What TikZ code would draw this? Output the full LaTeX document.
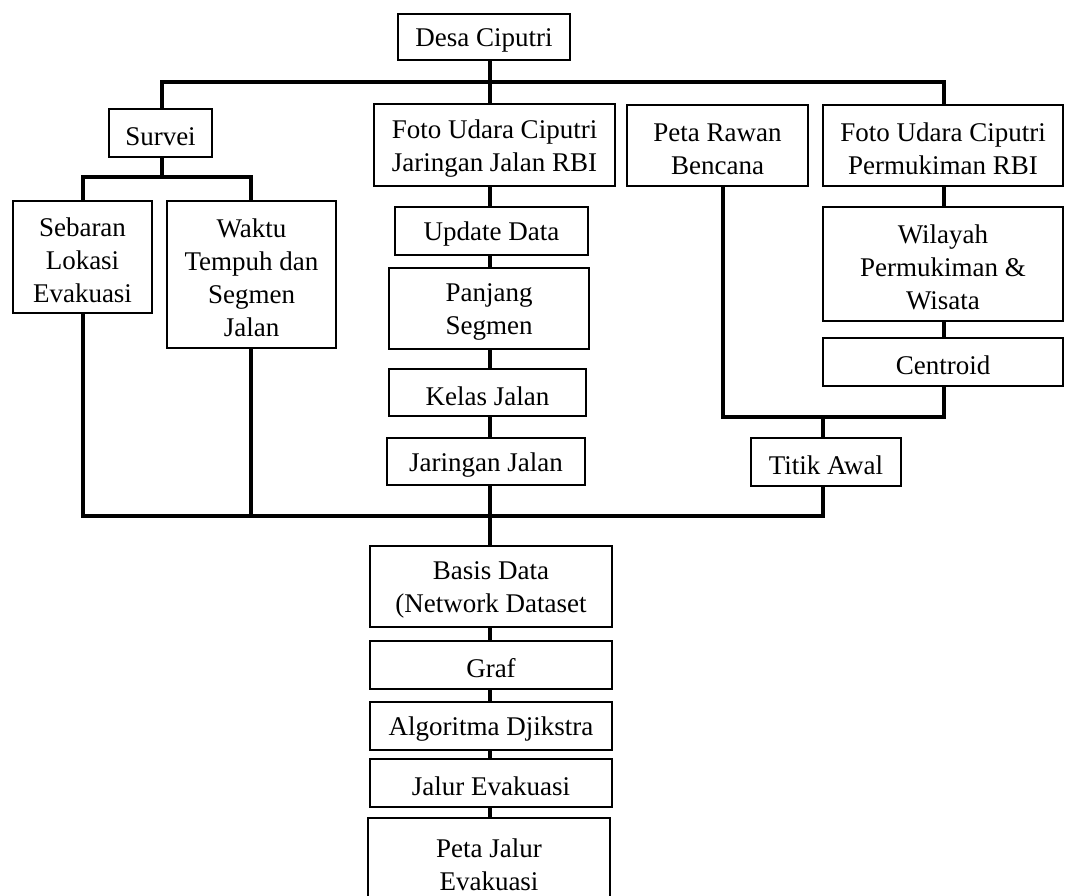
\documentclass[tikz,border=0pt]{standalone}
\usepackage{fontspec}
\setmainfont{Liberation Serif}
\usetikzlibrary{calc}
\begin{document}
\begin{tikzpicture}[x=0.75pt,y=-0.75pt,
  box/.style={draw, line width=2pt, inner sep=0pt},
  txt/.style={inner sep=0pt, align=center,
    font=\fontsize{20.25}{24.75}\selectfont},
  link/.style={line width=3pt, line cap=rect, line join=miter}]
\useasboundingbox (0,0) rectangle (1066,895);
\newcommand\bx[6]{\node[box, minimum width={(#4-2)*0.75pt}, minimum height={(#5-2)*0.75pt}] (#1) at (#2,#3) {};
  \node[txt] (#1t) at ($(#1.center)+(0,3.5)$) {#6};}
% boxes
\bx{desa}{484}{37}{174}{48}{Desa Ciputri}
\bx{survei}{160.5}{133}{105}{50}{Survei}
\bx{fotoj}{494.5}{145}{243}{84}{Foto Udara Ciputri\\Jaringan Jalan RBI}
\bx{rawan}{717.5}{145.5}{183}{83}{Peta Rawan\\Bencana}
\bx{fotop}{943}{145.5}{242}{83}{Foto Udara Ciputri\\Permukiman RBI}
\bx{sebaran}{82.5}{257}{141}{114}{Sebaran\\Lokasi\\Evakuasi}
\bx{waktu}{251.5}{274.5}{171}{149}{Waktu\\Tempuh dan\\Segmen\\Jalan}
\bx{update}{491.5}{231}{195}{50}{Update Data}
\bx{panjang}{489}{308.5}{202}{83}{Panjang\\Segmen}
\bx{kelas}{487.5}{392.5}{199}{49}{Kelas Jalan}
\bx{jaringan}{486}{461.5}{200}{49}{Jaringan Jalan}
\bx{wilayah}{943}{264}{242}{116}{Wilayah\\Permukiman \&\\Wisata}
\bx{centroid}{943}{362}{242}{50}{Centroid}
\bx{titik}{826}{462}{152}{50}{Titik Awal}
\bx{basis}{491}{586.5}{244}{83}{Basis Data\\(Network Dataset}
\bx{graf}{491}{665}{244}{50}{Graf}
\bx{algo}{491}{726}{244}{50}{Algoritma Djikstra}
\bx{jalur}{491}{783}{244}{50}{Jalur Evakuasi}
\bx{peta}{489}{861}{244}{88}{Peta Jalur\\Evakuasi}
% bus coordinates
\coordinate (tbL) at (162,82);
\coordinate (tbM) at (490,82);
\coordinate (tbR) at (944,82);
\coordinate (sbL) at (83,177);
\coordinate (sbM) at (162,177);
\coordinate (sbR) at (251,177);
\coordinate (bbL) at (83,516);
\coordinate (bbM) at (490,516);
\coordinate (bbW) at (251,516);
\coordinate (bbR) at (823,516);
\coordinate (jbL) at (723,417);
\coordinate (jbM) at (823,417);
\coordinate (jbR) at (944,417);
% top level
\draw[link] (desa.south -| tbM) -- (tbM);
\draw[link] (tbL) -- (tbR);
\draw[link] (tbL) -- (survei.north -| tbL);
\draw[link] (tbM) -- (fotoj.north -| tbM);
\draw[link] (tbR) -- (fotop.north -| tbR);
% survei branch
\draw[link] (survei.south -| sbM) -- (sbM);
\draw[link] (sbL) -- (sbR);
\draw[link] (sbL) -- (sebaran.north -| sbL);
\draw[link] (sbR) -- (waktu.north -| sbR);
% central chain
\draw[link] (fotoj.south -| tbM) -- (update.north -| tbM);
\draw[link] (update.south -| tbM) -- (panjang.north -| tbM);
\draw[link] (panjang.south -| tbM) -- (kelas.north -| tbM);
\draw[link] (kelas.south -| tbM) -- (jaringan.north -| tbM);
\draw[link] (jaringan.south -| bbM) -- (basis.north -| bbM);
% bottom bus
\draw[link] (bbL) -- (bbR);
\draw[link] (sebaran.south -| bbL) -- (bbL);
\draw[link] (waktu.south -| bbW) -- (bbW);
\draw[link] (titik.south -| bbR) -- (bbR);
% right branch
\draw[link] (fotop.south -| jbR) -- (wilayah.north -| jbR);
\draw[link] (wilayah.south -| jbR) -- (centroid.north -| jbR);
\draw[link] (centroid.south -| jbR) -- (jbR);
\draw[link] (rawan.south -| jbL) -- (jbL);
\draw[link] (jbL) -- (jbR);
\draw[link] (jbM) -- (titik.north -| jbM);
% bottom chain
\draw[link] (basis.south -| bbM) -- (graf.north -| bbM);
\draw[link] (graf.south -| bbM) -- (algo.north -| bbM);
\draw[link] (algo.south -| bbM) -- (jalur.north -| bbM);
\draw[link] (jalur.south -| bbM) -- (peta.north -| bbM);
\end{tikzpicture}
\end{document}
